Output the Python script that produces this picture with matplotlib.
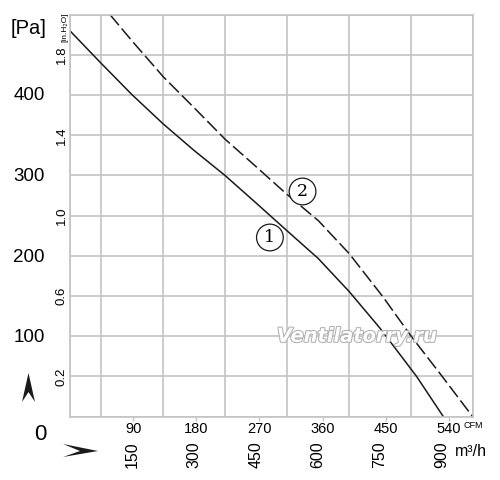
import numpy as np
import matplotlib
matplotlib.use("Agg")
import matplotlib.pyplot as plt
import matplotlib.patheffects as pe
from matplotlib.patches import Polygon

# Kennlinien (Volumenstrom m3/h, Druck Pa)
q1 = [0, 75, 150, 225, 300, 375, 450, 524, 601, 676, 750, 839, 904]
p1 = [478, 438, 399, 363, 330, 299, 265, 231, 196, 155, 110, 50, 0]
q2 = [97, 151, 226, 300, 375, 450, 524, 601, 676, 757, 827, 901, 975]
p2 = [498, 465, 421, 383, 344, 310, 276, 243, 202, 149, 99, 50, 0]

pa_ticks = [100, 200, 300, 400]
inh2o_ticks = [0.2, 0.6, 1.0, 1.4, 1.8]
m3h_ticks = [150, 300, 450, 600, 750, 900]
cfm_ticks = [90, 180, 270, 360, 450, 540]

PA_PER_IN = 249.0
M3H_PER_CFM = 1.699

schrift = ['Liberation Sans', 'DejaVu Sans']
grid_c = '#c4c4c4'
linie_c = '#1a1a1a'

fig = plt.figure(figsize=(5, 4.8), dpi=100)
ax = fig.add_axes([70 / 500, 1 - 416.7 / 480, 402.7 / 500, 402 / 480])
ax.set_xlim(0, 975)
ax.set_ylim(0, 2.0 * PA_PER_IN)

# Raster
ax.set_xticks(np.arange(0, 976, 75), minor=True)
ax.set_yticks(np.arange(0, 11) * 0.2 * PA_PER_IN, minor=True)
ax.grid(which='minor', color=grid_c, lw=1.2)
ax.grid(which='major', visible=False)
ax.tick_params(which='minor', length=0)
for s in ax.spines.values():
    s.set_color(grid_c)
    s.set_linewidth(1.2)

ax.plot(q1, p1, color=linie_c, lw=1.1)
ax.plot(q2, p2, color=linie_c, lw=1.1, linestyle=(0, (9, 2.8)))

# Pa links
ax.set_yticks(pa_ticks)
ax.set_yticklabels([str(v) for v in pa_ticks], family=schrift, fontsize=13.5)
ax.tick_params(axis='y', which='major', length=0, pad=18)

# m3/h unten (gedreht)
ax.set_xticks(m3h_ticks)
ax.set_xticklabels([str(v) for v in m3h_ticks], family=schrift, fontsize=11.5,
                   rotation=90, va='top', ha='center')
ax.tick_params(axis='x', which='major', length=0, pad=18)

# in.H2O
sy = ax.secondary_yaxis('left', functions=(lambda p: p / PA_PER_IN, lambda i: i * PA_PER_IN))
sy.set_yticks(inh2o_ticks)
sy.set_yticklabels([f'{v:.1f}' for v in inh2o_ticks], family=schrift, fontsize=9.5,
                   rotation=90, va='center')
sy.tick_params(length=0, pad=1.5)
sy.spines['left'].set_visible(False)

# CFM
sx = ax.secondary_xaxis('bottom', functions=(lambda q: q / M3H_PER_CFM, lambda c: c * M3H_PER_CFM))
sx.set_xticks(cfm_ticks)
sx.set_xticklabels([str(v) for v in cfm_ticks], family=schrift, fontsize=10.5)
sx.tick_params(length=3, color=grid_c, width=1, pad=1)
sx.spines['bottom'].set_visible(False)

# Beschriftungen
fig.text(29 / 500, 1 - 28 / 480, '[Pa]', family=schrift, fontsize=14.5, ha='center', va='center')
fig.text(65 / 500, 1 - 27 / 480, '[in.H₂O]', family=schrift, fontsize=6, rotation=90,
         ha='center', va='center')
fig.text(40 / 500, 1 - 435 / 480, '0', family=schrift, fontsize=16, ha='center', va='center')
fig.text(473 / 500, 1 - 426 / 480, 'CFM', family=schrift, fontsize=6.5, ha='center', va='center')
fig.text(471 / 500, 1 - 451 / 480, 'm³/h', family=schrift, fontsize=11.5, ha='center', va='center')

# Pfeilspitzen
up = Polygon([(28.5, 373), (35, 402), (28.5, 392), (22, 402)], closed=True,
             fc=linie_c, ec='none')
rt = Polygon([(98, 451), (63, 457), (80, 451), (63, 444)], closed=True,
             fc=linie_c, ec='none')
for poly in (up, rt):
    xy = poly.get_xy()
    xy[:, 0] = xy[:, 0] / 500
    xy[:, 1] = 1 - xy[:, 1] / 480
    poly.set_xy(xy)
    poly.set_transform(fig.transFigure)
    fig.patches.append(poly)

# Kurvennummern
for txt, q, p in (('1', 484, 222), ('2', 563, 279)):
    ax.text(q, p, txt, family=['DejaVu Serif'], fontsize=12.5, ha='center', va='center',
            bbox=dict(boxstyle='circle,pad=0.28', fc='white', ec=linie_c, lw=0.9))

# Wasserzeichen
ax.text(0.713, 0.2, 'Ventilatorry.ru', transform=ax.transAxes, fontsize=14,
        style='italic', weight='bold', color='white', ha='center', va='center',
        path_effects=[pe.withStroke(linewidth=1.5, foreground='#b0b0b0')])

fig.savefig('out.png', dpi=100)
